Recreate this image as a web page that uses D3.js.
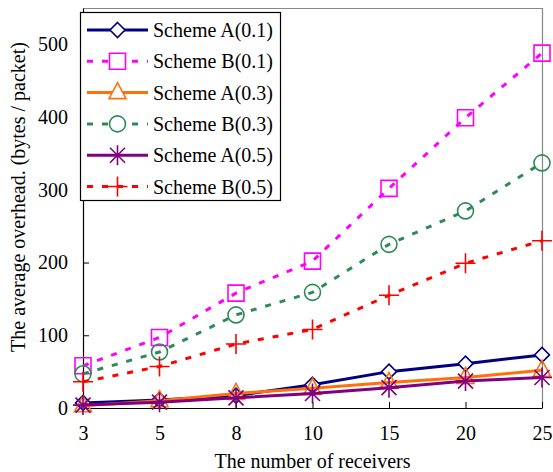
<!DOCTYPE html>
<html>
<head>
<meta charset="utf-8">
<script src="https://cdn.jsdelivr.net/npm/d3@7"></script>
<style>
  body { margin: 0; background: #fff; }
  svg { display: block; font-family: "Liberation Serif", "DejaVu Serif", serif; }
</style>
</head>
<body>
<script>
// receivers on the x axis
var receivers = ["3", "5", "8", "10", "15", "20", "25"];
var yTicks = [0, 100, 200, 300, 400, 500];

// average overhead (bytes / packet)
var schemeA01 = [7, 11, 17, 32, 50, 61, 73];
var schemeB01 = [58, 97, 158, 202, 302, 399, 488];
var schemeA03 = [3, 10, 20, 27, 35, 42, 52];
var schemeB03 = [47, 77, 128, 159, 225, 271, 337];
var schemeA05 = [4, 8, 14, 20, 28, 37, 42];
var schemeB05 = [36, 57, 88, 108, 155, 199, 230];

var names = ["Scheme A(0.1)", "Scheme B(0.1)", "Scheme A(0.3)", "Scheme B(0.3)", "Scheme A(0.5)", "Scheme B(0.5)"];
var values = [schemeA01, schemeB01, schemeA03, schemeB03, schemeA05, schemeB05];

var styles = [
  { color: "#000080", dash: null, marker: "diamond" },
  { color: "#ff00ff", dash: "6,9", marker: "square" },
  { color: "#ff700a", dash: null, marker: "triangle" },
  { color: "#2e8b57", dash: "6,9", marker: "circle" },
  { color: "#800080", dash: null, marker: "star" },
  { color: "#ff0000", dash: "6,9", marker: "plus" }
];

var width = 553, height = 472;
var plotLeft = 83, plotRight = 542, plotTop = 8, plotBottom = 408;

var svg = d3.select("body").append("svg")
  .attr("width", width)
  .attr("height", height);

var x = d3.scalePoint().domain(receivers).range([plotLeft, plotRight]);
var y = d3.scaleLinear().domain([0, 550]).range([plotBottom, plotTop]);

// marker path for each shape, centred at 0,0
function markerPath(kind)
{
  var p = d3.path();
  if (kind == "diamond") {
    p.moveTo(0, -7.5); p.lineTo(7.5, 0); p.lineTo(0, 7.5); p.lineTo(-7.5, 0); p.closePath();
  } else if (kind == "square") {
    p.rect(-8, -8, 16, 16);
  } else if (kind == "triangle") {
    p.moveTo(0, -10); p.lineTo(8.5, 6); p.lineTo(-8.5, 6); p.closePath();
  } else if (kind == "circle") {
    p.arc(0, 0, 8, 0, 2 * Math.PI);
  } else if (kind == "star") {
    p.moveTo(-10, 0); p.lineTo(10, 0);
    p.moveTo(0, -10); p.lineTo(0, 10);
    p.moveTo(-7.5, -7.5); p.lineTo(7.5, 7.5);
    p.moveTo(-7.5, 7.5); p.lineTo(7.5, -7.5);
  } else if (kind == "plus") {
    p.moveTo(-10, 0); p.lineTo(10, 0);
    p.moveTo(0, -10); p.lineTo(0, 10);
  }
  return p.toString();
}

// frame: grey top / right, black left / bottom
svg.append("line").attr("x1", plotLeft).attr("x2", plotRight).attr("y1", plotTop + 0.5).attr("y2", plotTop + 0.5)
  .attr("stroke", "#888").attr("stroke-width", 1.2);
svg.append("line").attr("x1", plotRight + 0.5).attr("x2", plotRight + 0.5).attr("y1", plotTop).attr("y2", plotBottom)
  .attr("stroke", "#888").attr("stroke-width", 1.2);

var xAxis = d3.axisBottom(x).tickSizeInner(-6).tickSizeOuter(0).tickPadding(18);
var yAxis = d3.axisLeft(y).tickValues(yTicks).tickSizeInner(-6).tickSizeOuter(0).tickPadding(15);

var gx = svg.append("g").attr("transform", "translate(0," + plotBottom + ")").call(xAxis);
var gy = svg.append("g").attr("transform", "translate(" + plotLeft + ",0)").call(yAxis);

[gx, gy].forEach(function(g) {
  g.select(".domain").attr("stroke", "#000").attr("stroke-width", 1.2);
  g.selectAll(".tick line").attr("stroke", "#000").attr("stroke-width", 1);
  g.selectAll(".tick text").attr("fill", "#000").style("font-size", "20px")
    .style("font-family", "Liberation Serif, serif");
});

// axis titles
svg.append("text")
  .attr("x", (plotLeft + plotRight) / 2)
  .attr("y", 468)
  .attr("text-anchor", "middle")
  .style("font-size", "20px")
  .text("The number of receivers");

svg.append("text")
  .attr("transform", "translate(25,197) rotate(-90)")
  .attr("text-anchor", "middle")
  .style("font-size", "20px")
  .text("The average overhead. (bytes / packet)");

// series
var line = d3.line()
  .x(function(d, i) { return x(receivers[i]); })
  .y(function(d) { return y(d); });

values.forEach(function(vals, s)
{
  var st = styles[s];
  svg.append("path")
    .datum(vals)
    .attr("d", line)
    .attr("fill", "none")
    .attr("stroke", st.color)
    .attr("stroke-width", 3)
    .attr("stroke-dasharray", st.dash);

  svg.selectAll(".pt" + s)
    .data(vals)
    .enter()
      .append("path")
      .attr("class", "pt" + s)
      .attr("transform", function(d, i) { return "translate(" + x(receivers[i]) + "," + y(d) + ")"; })
      .attr("d", markerPath(st.marker))
      .attr("fill", st.marker == "diamond" ? "#fff" : "none")
      .attr("stroke", st.color)
      .attr("stroke-width", 1.6);
});

// legend
var legend = svg.append("g");
legend.append("rect")
  .attr("x", 80.5).attr("y", 12.5)
  .attr("width", 200).attr("height", 188)
  .attr("fill", "#fff")
  .attr("stroke", "#000")
  .attr("stroke-width", 1.2);

names.forEach(function(name, i)
{
  var st = styles[i];
  var ly = 30 + i * 31.3;
  legend.append("line")
    .attr("x1", 87).attr("x2", 148)
    .attr("y1", ly).attr("y2", ly)
    .attr("stroke", st.color)
    .attr("stroke-width", 3)
    .attr("stroke-dasharray", st.dash);
  legend.append("path")
    .attr("transform", "translate(117.5," + ly + ")")
    .attr("d", markerPath(st.marker))
    .attr("fill", st.marker == "plus" || st.marker == "star" ? "none" : "#fff")
    .attr("stroke", st.color)
    .attr("stroke-width", 1.6);
  legend.append("text")
    .attr("x", 153)
    .attr("y", ly)
    .attr("dy", "0.35em")
    .style("font-size", "20px")
    .text(name);
});
</script>
</body>
</html>
